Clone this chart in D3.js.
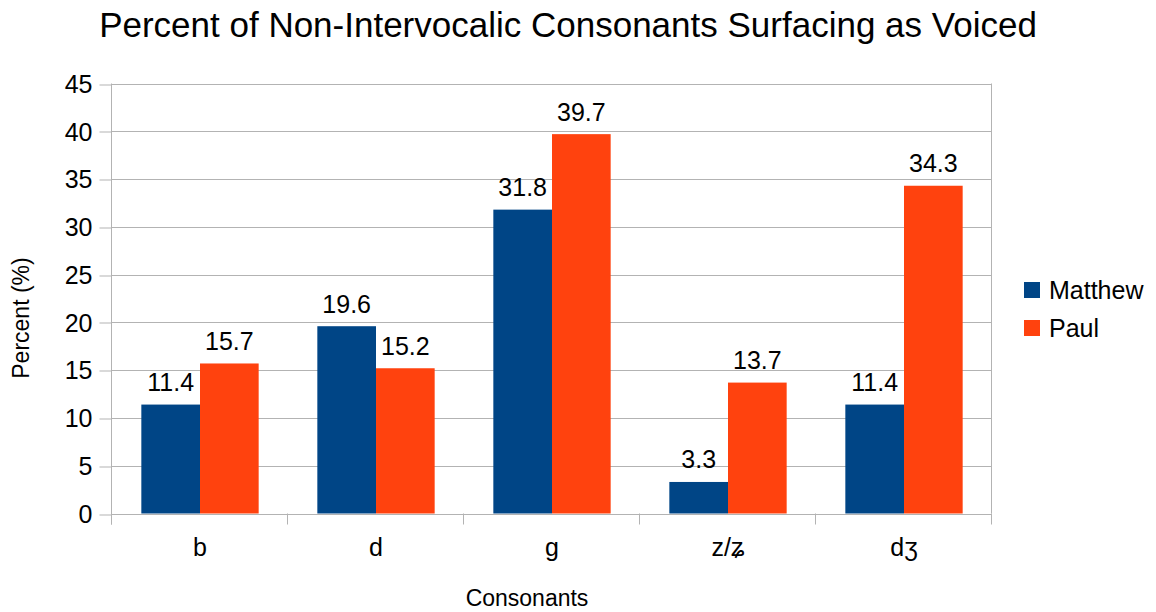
<!DOCTYPE html>
<html>
<head>
<meta charset="utf-8">
<script src="https://cdn.jsdelivr.net/npm/d3@7"></script>
<style>
  html, body { margin: 0; padding: 0; background: #fff; }
  svg { display: block; font-family: "Liberation Sans", Arial, sans-serif; }
</style>
</head>
<body>
<svg id="chart" width="1156" height="612"></svg>
<script>
// Chart data
const categories = ["b", "d", "g", "z/ʑ", "dʒ"];
const seriesNames = ["Matthew", "Paul"];
const matthew = [11.4, 19.6, 31.8, 3.3, 11.4];
const paul = [15.7, 15.2, 39.7, 13.7, 34.3];
const yTicks = [0, 5, 10, 15, 20, 25, 30, 35, 40, 45];
const colors = ["#004586", "#ff420e"];

const seriesValues = [matthew, paul];

const svg = d3.select("#chart");
const plot = { left: 112, right: 992, top: 83.5, bottom: 513.5 };
const FONT = "Liberation Sans, Arial, sans-serif";

const x0 = d3.scaleBand().domain(categories).range([plot.left, plot.right]).paddingInner(0).paddingOuter(0);
const x1 = d3.scaleBand().domain(seriesNames).range([0, x0.bandwidth()]).paddingInner(0).paddingOuter(0.5);
const y = d3.scaleLinear().domain([0, 45]).range([plot.bottom, plot.top]);

// Horizontal grid lines
svg.append("g").selectAll("line").data(yTicks).join("line")
  .attr("x1", plot.left).attr("x2", plot.right)
  .attr("y1", d => Math.round(y(d)) + 0.5).attr("y2", d => Math.round(y(d)) + 0.5)
  .attr("stroke", "#b3b3b3").attr("stroke-width", 1);

// Right edge of the plot frame
svg.append("line").attr("x1", plot.right - 0.5).attr("x2", plot.right - 0.5)
  .attr("y1", plot.top).attr("y2", plot.bottom).attr("stroke", "#b3b3b3");

// Y axis
const yAxis = d3.axisLeft(y).tickValues(yTicks).tickSize(12).tickPadding(6);
const yg = svg.append("g").attr("transform", `translate(${plot.left - 0.5},0)`).call(yAxis);
yg.select(".domain").attr("stroke", "#b3b3b3").attr("d", `M0,${plot.top}V${plot.bottom + 11}`);
yg.selectAll(".tick line").attr("stroke", "#b3b3b3")
  .attr("transform", d => `translate(0,${Math.round(y(d)) + 0.5 - y(d)})`)
  .attr("x1", 0).attr("x2", -12);
yg.selectAll(".tick text").attr("font-size", 25).attr("fill", "#000")
  .attr("font-family", FONT).attr("x", -19).attr("dy", "0.35em");

// X axis: category boundary ticks
const xBounds = categories.map(c => x0(c)).concat([plot.right]);
svg.append("g").selectAll("line").data(xBounds).join("line")
  .attr("x1", d => Math.round(d) - 0.5).attr("x2", d => Math.round(d) - 0.5)
  .attr("y1", plot.bottom).attr("y2", plot.bottom + 11)
  .attr("stroke", "#b3b3b3");

const xAxis = d3.axisBottom(x0).tickSize(0).tickPadding(0);
const xg = svg.append("g").attr("transform", `translate(0,${plot.bottom})`).call(xAxis);
xg.select(".domain").remove();
xg.selectAll(".tick text").attr("font-size", 25).attr("fill", "#000")
  .attr("font-family", FONT)
  .attr("dy", 0).attr("y", 42.5);

// Bars
const groups = svg.append("g").selectAll("g").data(categories).join("g")
  .attr("transform", c => `translate(${x0(c)},0)`);

groups.selectAll("rect")
  .data((c, i) => seriesNames.map((s, j) => ({ s, v: seriesValues[j][i], j })))
  .join("rect")
  .attr("x", d => x1(d.s))
  .attr("width", x1.bandwidth())
  .attr("y", d => y(d.v))
  .attr("height", d => y(0) - y(d.v))
  .attr("fill", d => colors[d.j]);

// Value labels
groups.selectAll("text.val")
  .data((c, i) => seriesNames.map((s, j) => ({ s, v: seriesValues[j][i], j })))
  .join("text")
  .attr("class", "val")
  .attr("x", d => x1(d.s) + x1.bandwidth() / 2)
  .attr("y", d => y(d.v) - 13.5)
  .attr("text-anchor", "middle")
  .attr("font-size", 25)
  .attr("fill", "#000")
  .text(d => d.v.toFixed(1));

// Title
svg.append("text").attr("x", 568).attr("y", 37).attr("text-anchor", "middle")
  .attr("font-size", 35).attr("fill", "#000")
  .text("Percent of Non-Intervocalic Consonants Surfacing as Voiced");

// Axis titles
svg.append("text").attr("x", 527).attr("y", 606).attr("text-anchor", "middle")
  .attr("font-size", 23).attr("fill", "#000").text("Consonants");
svg.append("text").attr("transform", "translate(29,318) rotate(-90)").attr("text-anchor", "middle")
  .attr("font-size", 23).attr("fill", "#000").text("Percent (%)");

// Legend
const legend = svg.append("g").selectAll("g").data(seriesNames).join("g")
  .attr("transform", (d, i) => `translate(1024,${282 + i * 38})`);
legend.append("rect").attr("width", 16).attr("height", 16).attr("fill", (d, i) => colors[i]);
legend.append("text").attr("x", 25).attr("y", 17).attr("font-size", 25).attr("fill", "#000").text(d => d);
</script>
</body>
</html>
